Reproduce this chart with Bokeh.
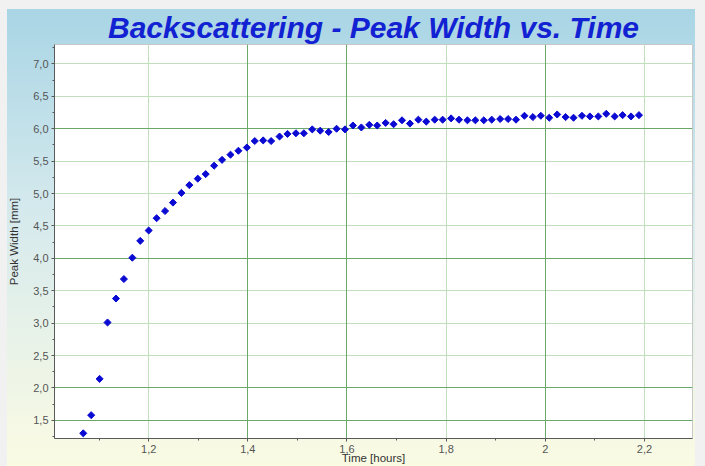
from bokeh.plotting import figure
from bokeh.models import Range1d, FixedTicker, Grid
from bokeh.embed import file_html
from bokeh.resources import INLINE

# --- data ---
time_hours = [1.068, 1.084, 1.101, 1.117, 1.134, 1.150, 1.167, 1.183, 1.200, 1.216,
              1.233, 1.249, 1.266, 1.282, 1.299, 1.315, 1.332, 1.348, 1.365, 1.381,
              1.398, 1.414, 1.431, 1.447, 1.464, 1.480, 1.497, 1.513, 1.530, 1.546,
              1.563, 1.579, 1.596, 1.612, 1.629, 1.645, 1.661, 1.678, 1.694, 1.711,
              1.727, 1.744, 1.760, 1.777, 1.793, 1.810, 1.826, 1.843, 1.859, 1.876,
              1.892, 1.909, 1.925, 1.941, 1.958, 1.975, 1.991, 2.008, 2.024, 2.041,
              2.057, 2.074, 2.090, 2.107, 2.123, 2.140, 2.156, 2.173, 2.189]
peak_width_mm = [1.30, 1.58, 2.14, 3.01, 3.38, 3.68, 4.01, 4.27, 4.43, 4.62,
                 4.73, 4.86, 5.01, 5.13, 5.23, 5.30, 5.43, 5.52, 5.60, 5.66,
                 5.71, 5.81, 5.82, 5.81, 5.88, 5.92, 5.93, 5.93, 5.99, 5.97,
                 5.95, 6.00, 5.99, 6.05, 6.02, 6.06, 6.05, 6.09, 6.07, 6.13,
                 6.08, 6.14, 6.11, 6.14, 6.14, 6.16, 6.14, 6.13, 6.13, 6.13,
                 6.14, 6.15, 6.15, 6.14, 6.20, 6.18, 6.20, 6.17, 6.22, 6.18,
                 6.17, 6.20, 6.19, 6.19, 6.23, 6.19, 6.21, 6.19, 6.21]

x_ticks = [1.2, 1.4, 1.6, 1.8, 2.0, 2.2]
x_tick_labels = ["1,2", "1,4", "1,6", "1,8", "2", "2,2"]
x_minor_ticks = [1.1, 1.3, 1.5, 1.7, 1.9, 2.1, 2.3]
y_ticks = [1.5, 2.0, 2.5, 3.0, 3.5, 4.0, 4.5, 5.0, 5.5, 6.0, 6.5, 7.0]
y_tick_labels = ["1,5", "2,0", "2,5", "3,0", "3,5", "4,0", "4,5", "5,0", "5,5", "6,0", "6,5", "7,0"]
y_minor_ticks = [1.25, 1.75, 2.25, 2.75, 3.25, 3.75, 4.25, 4.75, 5.25, 5.75, 6.25, 6.75, 7.25]

title_text = "Backscattering - Peak Width vs. Time"
x_label = "Time [hours]"
y_label = "Peak Width [mm]"

FONT = "Liberation Sans"

p = figure(width=705, height=466, output_backend="svg", toolbar_location=None,
           x_range=Range1d(1.01, 2.297), y_range=Range1d(1.22, 7.3),
           min_border_left=54, min_border_right=13, min_border_top=44, min_border_bottom=28,
           title=title_text)

p.styles = {"background": "linear-gradient(to bottom, #a9d5e5 0%, #d6eaed 45%, #fbfbe3 100%) 7px 9px / 688px 460px no-repeat, #f1f1f1"}
p.border_fill_alpha = 0
p.background_fill_color = "white"
p.outline_line_color = "#c8c8c8"

p.title.align = "center"
p.title.text_font = FONT
p.title.text_font_size = "30px"
p.title.text_font_style = "bold italic"
p.title.text_color = "#1222d2"
p.title.standoff = 2

# axes
for ax in (p.xaxis[0], p.yaxis[0]):
    ax.axis_line_color = "#5a5a5a"
    ax.major_tick_line_color = "#5a5a5a"
    ax.minor_tick_line_color = "#5a5a5a"
    ax.major_tick_in = 0
    ax.major_tick_out = 3
    ax.minor_tick_in = 0
    ax.minor_tick_out = 2
    ax.major_label_text_font = FONT
    ax.major_label_text_font_size = "11px"
    ax.major_label_text_color = "#555555"
    ax.axis_label_text_font = FONT
    ax.axis_label_text_font_size = "11.5px"
    ax.axis_label_text_font_style = "normal"
    ax.axis_label_text_color = "#333333"

p.xaxis.ticker = FixedTicker(ticks=x_ticks, minor_ticks=x_minor_ticks)
p.xaxis.major_label_overrides = dict(zip(x_ticks, x_tick_labels))
p.xaxis.axis_label = x_label
p.xaxis.major_label_standoff = 3
p.xaxis.axis_label_standoff = -4

p.yaxis.ticker = FixedTicker(ticks=y_ticks, minor_ticks=y_minor_ticks)
p.yaxis.major_label_overrides = dict(zip(y_ticks, y_tick_labels))
p.yaxis.axis_label = y_label
p.yaxis.major_label_standoff = 3
p.yaxis.axis_label_standoff = 10

# grids: light lines everywhere, darker where the reference shows darker lines
p.xgrid.grid_line_color = "#c2dfbd"
p.ygrid.grid_line_color = "#c2dfbd"
p.xgrid.ticker = FixedTicker(ticks=x_ticks)
p.ygrid.ticker = FixedTicker(ticks=y_ticks)
dark_x = [1.4, 1.6, 2.0]
dark_y = [1.5, 2.0, 4.0, 6.0]
p.add_layout(Grid(dimension=0, ticker=FixedTicker(ticks=dark_x), grid_line_color="#6aa86a"))
p.add_layout(Grid(dimension=1, ticker=FixedTicker(ticks=dark_y), grid_line_color="#6aa86a"))

p.scatter(time_hours, peak_width_mm, marker="square", angle=0.785, size=5,
          fill_color="#0a0ad2", line_color="#0a0ad2")

open("out.html", "w").write(file_html(p, INLINE))
